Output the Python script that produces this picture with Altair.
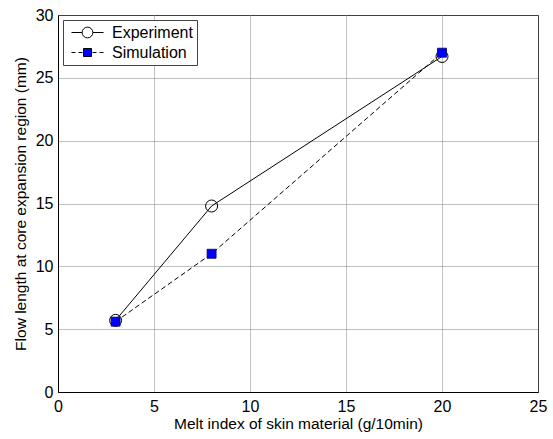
import altair as alt
import pandas as pd

# ---- data ----
melt_index = [3, 8, 20]
experiment = [5.7, 14.8, 26.7]
simulation = [5.6, 11.0, 27.0]
series_names = ["Experiment", "Simulation"]
x_ticks = [0, 5, 10, 15, 20, 25]
y_ticks = [0, 5, 10, 15, 20, 25, 30]

df = pd.DataFrame({
    "x": melt_index + melt_index,
    "y": experiment + simulation,
    "series": [series_names[0]] * len(melt_index) + [series_names[1]] * len(melt_index),
})

FONT = "Liberation Sans"

x_enc = alt.X("x:Q", scale=alt.Scale(domain=[0, 25], nice=False),
              axis=alt.Axis(values=x_ticks, title="Melt index of skin material (g/10min)",
                            labelPadding=6, titlePadding=2, labelFlush=False))
y_enc = alt.Y("y:Q", scale=alt.Scale(domain=[0, 30], nice=False),
              axis=alt.Axis(values=y_ticks, title="Flow length at core expansion region (mm)",
                            labelPadding=5, titlePadding=7, labelFlush=False))

base = alt.Chart(df)

exp_line = base.transform_filter(alt.datum.series == "Experiment").mark_line(
    color="black", strokeWidth=1).encode(x=x_enc, y=y_enc)
sim_line = base.transform_filter(alt.datum.series == "Simulation").mark_line(
    color="black", strokeWidth=1, strokeDash=[5, 3]).encode(x=x_enc, y=y_enc)
exp_pts = base.transform_filter(alt.datum.series == "Experiment").mark_point(
    shape="circle", size=144, filled=False, stroke="black", strokeWidth=1, opacity=1
).encode(x=x_enc, y=y_enc)
sim_pts = base.transform_filter(alt.datum.series == "Simulation").mark_point(
    shape="square", size=81, filled=True, fill="#0000ff", stroke="#00006a", strokeWidth=0.8, opacity=1
).encode(x=x_enc, y=y_enc)

# legend symbols: line + marker glyphs
path_exp = ("M-2,0H-0.67M0.67,0H2"
            "M0.67,0A0.67,0.67 0 1 1 -0.67,0A0.67,0.67 0 1 1 0.67,0Z")
path_sim = ("M-2,0H-1.5M-1.125,0H-0.625M0.625,0H1.125M1.5,0H2"
            "M-0.5,-0.5H0.5V0.5H-0.5Z")

legend = alt.Legend(title=None, orient="top-left", offset=5, padding=4,
                    strokeColor="#444444", fillColor="white",
                    symbolSize=256, symbolStrokeColor="black", symbolStrokeWidth=1,
                    symbolOpacity=1, symbolOffset=12, labelOffset=16, rowPadding=3,
                    labelFont=FONT, labelFontSize=16, labelColor="black",
                    labelExpr="datum.label + '\u00a0\u00a0\u00a0'")

legend_layer = base.transform_filter("false").mark_point(
    filled=True, strokeWidth=1
).encode(
    x=x_enc, y=y_enc,
    shape=alt.Shape("series:N", scale=alt.Scale(domain=series_names, range=[path_exp, path_sim]),
                    legend=legend),
    fill=alt.Fill("series:N", scale=alt.Scale(domain=series_names, range=["white", "#0000ff"]),
                  legend=legend),
    stroke=alt.Stroke("series:N", scale=alt.Scale(domain=series_names, range=["black", "black"]),
                      legend=legend),
)

chart = alt.layer(exp_line, sim_line, exp_pts, sim_pts, legend_layer).properties(
    width=480, height=377,
    padding={"left": 58, "top": 15, "right": 15, "bottom": 47},
    autosize=alt.AutoSizeParams(type="none"),
).configure_view(
    stroke="black", strokeWidth=1
).configure_axis(
    labelFont=FONT, titleFont=FONT, labelFontSize=16, titleFontSize=15.5,
    titleFontWeight="normal", labelColor="black", titleColor="black",
    domainColor="black", domainWidth=1, ticks=False,
    grid=True, gridColor="#808080", gridDash=[1, 1], gridWidth=1, gridOpacity=1,
)

chart.save("out.html", embed_options={"renderer": "svg", "actions": False})
